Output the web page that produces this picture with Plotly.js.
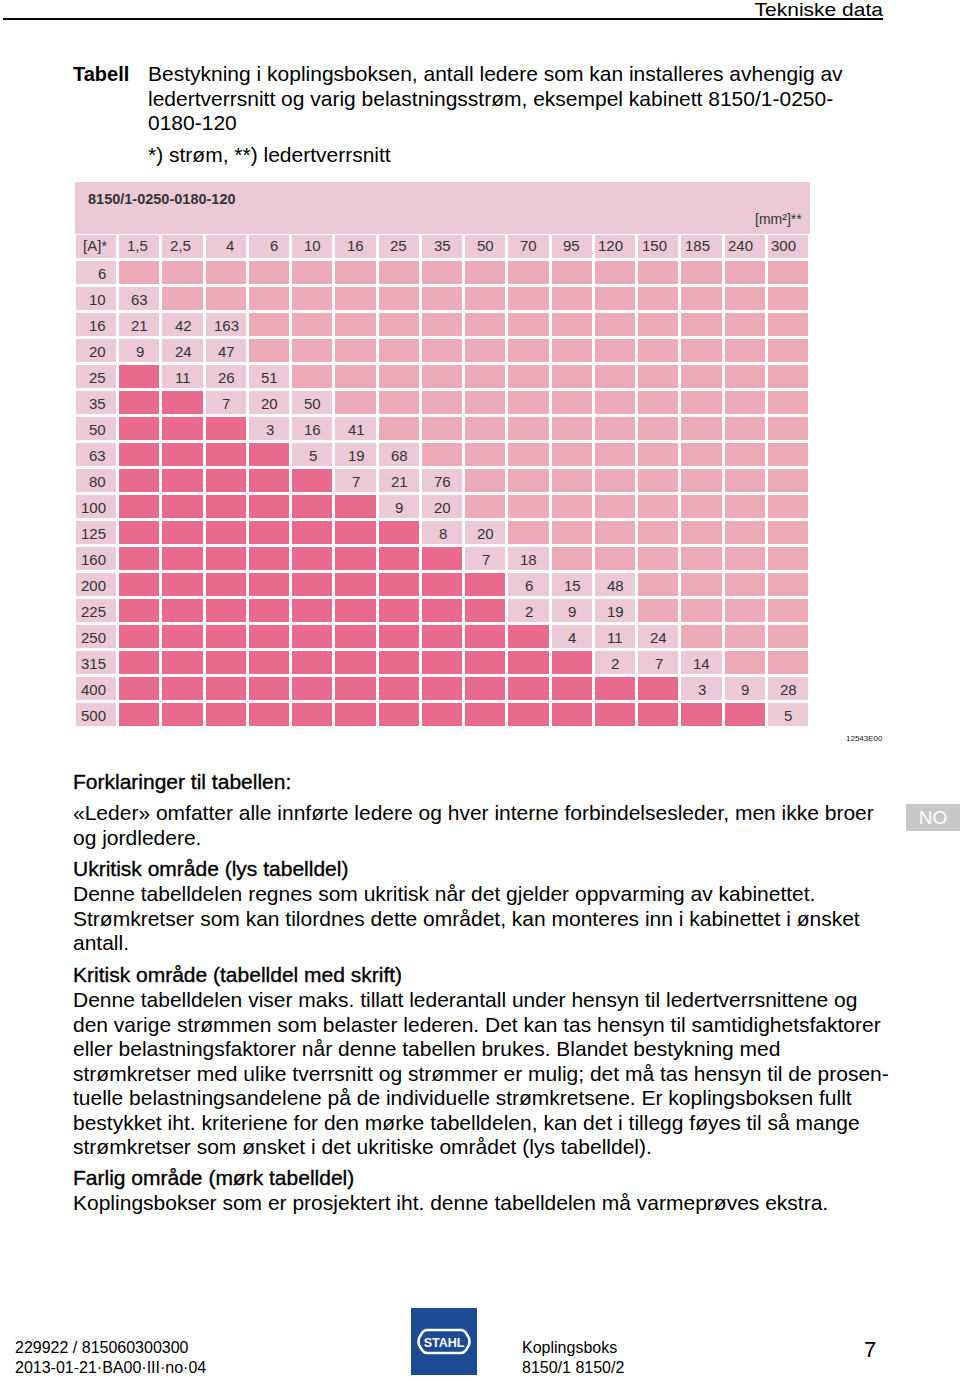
<!DOCTYPE html>
<html>
<head>
<meta charset="utf-8">
<script src="https://cdn.plot.ly/plotly-3.0.1.min.js"></script>
<style>
  body { margin: 0; width: 960px; height: 1381px; background: #fff; position: relative; overflow: hidden;
         font-family: "Liberation Sans", Arial, sans-serif; color: #000; }
  .t { position: absolute; white-space: nowrap; font-size: 21px; line-height: 24.5px; }
  .h { -webkit-text-stroke: 0.35px #000; }
  .foot { position: absolute; white-space: nowrap; font-size: 16px; line-height: 20px; }
  #myPlot { position: absolute; left: 75px; top: 182px; width: 735px; height: 546px; }
</style>
</head>
<body>
<div class="t" style="right:77px; top:0px; font-size:21px; line-height:24px; transform:scaleY(0.85); transform-origin:top;">Tekniske data</div>
<div style="position:absolute; left:3px; top:18px; width:880px; height:2px; background:#000;"></div>

<div class="t" style="left:73px; top:62px; font-weight:bold; font-size:20px;">Tabell</div>
<div class="t" style="left:148px; top:62px;">Bestykning i koplingsboksen, antall ledere som kan installeres avhengig av<br>ledertverrsnitt og varig belastningsstrøm, eksempel kabinett 8150/1-0250-<br>0180-120</div>
<div class="t" style="left:148px; top:143px;">*) strøm, **) ledertverrsnitt</div>

<div id="myPlot"></div>
<div style="position:absolute; left:846px; top:734px; font-size:8px; color:#222;">12543E00</div>

<div class="t h" style="left:73px; top:770px;">Forklaringer til tabellen:</div>
<div class="t" style="left:73px; top:801px;">«Leder» omfatter alle innførte ledere og hver interne forbindelsesleder, men ikke broer<br>og jordledere.</div>
<div class="t h" style="left:73px; top:857px;">Ukritisk område (lys tabelldel)</div>
<div class="t" style="left:73px; top:882px;">Denne tabelldelen regnes som ukritisk når det gjelder oppvarming av kabinettet.<br>Strømkretser som kan tilordnes dette området, kan monteres inn i kabinettet i ønsket<br>antall.</div>
<div class="t h" style="left:73px; top:963px;">Kritisk område (tabelldel med skrift)</div>
<div class="t" style="left:73px; top:988px;">Denne tabelldelen viser maks. tillatt lederantall under hensyn til ledertverrsnittene og<br>den varige strømmen som belaster lederen. Det kan tas hensyn til samtidighetsfaktorer<br>eller belastningsfaktorer når denne tabellen brukes. Blandet bestykning med<br>strømkretser med ulike tverrsnitt og strømmer er mulig; det må tas hensyn til de prosen-<br>tuelle belastningsandelene på de individuelle strømkretsene. Er koplingsboksen fullt<br>bestykket iht. kriteriene for den mørke tabelldelen, kan det i tillegg føyes til så mange<br>strømkretser som ønsket i det ukritiske området (lys tabelldel).</div>
<div class="t h" style="left:73px; top:1166px;">Farlig område (mørk tabelldel)</div>
<div class="t" style="left:73px; top:1191px;">Koplingsbokser som er prosjektert iht. denne tabelldelen må varmeprøves ekstra.</div>

<div style="position:absolute; left:906px; top:804px; width:54px; height:27px; background:#c8c8c8; color:#fff; font-size:19px; line-height:27px; text-align:center;">NO</div>

<div class="foot" style="left:15px; top:1338px;">229922 / 815060300300<br>2013-01-21·BA00·III·no·04</div>
<svg style="position:absolute; left:411px; top:1308px;" width="66" height="67">
  <rect x="0" y="0" width="66" height="67" fill="#1c4b94"/>
  <path d="M16,22 H50 Q53,22 55,25 L58,30 Q59,33.5 58,37 L55,42 Q53,45 50,45 H16 Q13,45 11,42 L8,37 Q7,33.5 8,30 L11,25 Q13,22 16,22 Z" fill="none" stroke="#fff" stroke-width="2.5"/>
  <text x="33" y="38.5" fill="#fff" font-size="12.5" font-weight="bold" text-anchor="middle" font-family="Liberation Sans, Arial">STAHL</text>
</svg>
<div class="foot" style="left:522px; top:1338px;">Koplingsboks<br>8150/1 8150/2</div>
<div class="foot" style="left:864px; top:1337px; font-size:22px; line-height:26px;">7</div>

<script>
// conductor cross-sections [mm²] (columns) and currents [A] (rows)
const crossSections = ["1,5", "2,5", "4", "6", "10", "16", "25", "35", "50", "70", "95", "120", "150", "185", "240", "300"];
const currents = ["6", "10", "16", "20", "25", "35", "50", "63", "80", "100", "125", "160", "200", "225", "250", "315", "400", "500"];

// first column of the critical part in each row (columns before it are the dark part)
const firstCritical = [0, 0, 0, 0, 1, 2, 3, 4, 5, 6, 7, 8, 9, 9, 10, 11, 13, 15];
// max number of conductors in the critical part, row by row
const conductorCounts = [
    [], [63], [21, 42, 163], [9, 24, 47], [11, 26, 51], [7, 20, 50],
    [3, 16, 41], [5, 19, 68], [7, 21, 76], [9, 20], [8, 20], [7, 18],
    [6, 15, 48], [2, 9, 19], [4, 11, 24], [2, 7, 14], [3, 9, 28], [5]
];

const LIGHT = "#ecc9d7";
const MEDIUM = "#edabba";
const DARK = "#e86a8d";
const font = { family: "Liberation Sans, Arial, sans-serif", size: 15, color: "#333" };

// 0 = light (labels / critical), 1 = uncritical, 2 = dangerous
const xs = [];
for (let c = -1; c < crossSections.length; c++) xs.push(c);
const ys = [];
const z = [];
ys.push(0);
z.push(xs.map(() => 0));
const annotations = [];

annotations.push({ x: -1, y: 0, yshift: 2, text: "[A]*", xanchor: "right", xshift: 12, showarrow: false, font: font });
crossSections.forEach((cs, c) => {
    annotations.push({ x: c, y: 0, yshift: 2, text: cs, xanchor: "right", xshift: 10, showarrow: false, font: font });
});

currents.forEach((cur, i) => {
    const r = i + 1;
    ys.push(r);
    const start = firstCritical[i];
    const vals = conductorCounts[i];
    const row = [0];
    for (let c = 0; c < crossSections.length; c++) {
        if (c < start) row.push(2);
        else if (c < start + vals.length) row.push(0);
        else row.push(1);
    }
    z.push(row);
    annotations.push({ x: -1, y: r, text: cur, xanchor: "right", xshift: 11, showarrow: false, font: font });
    vals.forEach((v, k) => {
        annotations.push({ x: start + k, y: r, text: String(v), xanchor: "center", showarrow: false, font: font });
    });
});

annotations.push({ x: -1.5, y: -1.85, text: "<b>8150/1-0250-0180-120</b>", xanchor: "left", xshift: 11,
    showarrow: false, font: { family: font.family, size: 14.5, color: "#333" } });
annotations.push({ x: 15.5, y: -1.08, text: "[mm²]**", xanchor: "right", xshift: -6,
    showarrow: false, font: { family: font.family, size: 14, color: "#333" } });

const data = [{
    type: "heatmap",
    x: xs,
    y: ys,
    z: z,
    zmin: 0,
    zmax: 2,
    colorscale: [[0, LIGHT], [0.333, LIGHT], [0.333, MEDIUM], [0.667, MEDIUM], [0.667, DARK], [1, DARK]],
    showscale: false,
    xgap: 3,
    ygap: 3,
    hoverinfo: "skip"
}];

const layout = {
    width: 735,
    height: 546,
    margin: { l: 0, r: 0, t: 0, b: 0 },
    paper_bgcolor: "#fff",
    plot_bgcolor: "#fff",
    xaxis: { range: [-1.5, 15.5], visible: false, fixedrange: true },
    yaxis: { range: [18.5, -2.5], visible: false, fixedrange: true },
    shapes: [{ type: "rect", xref: "x", yref: "y", x0: -1.5, x1: 15.5, y0: -2.5, y1: -0.5,
               fillcolor: LIGHT, line: { width: 0 }, layer: "below" }],
    annotations: annotations,
    showlegend: false
};

Plotly.newPlot("myPlot", data, layout, { staticPlot: true, displayModeBar: false });
</script>
</body>
</html>
